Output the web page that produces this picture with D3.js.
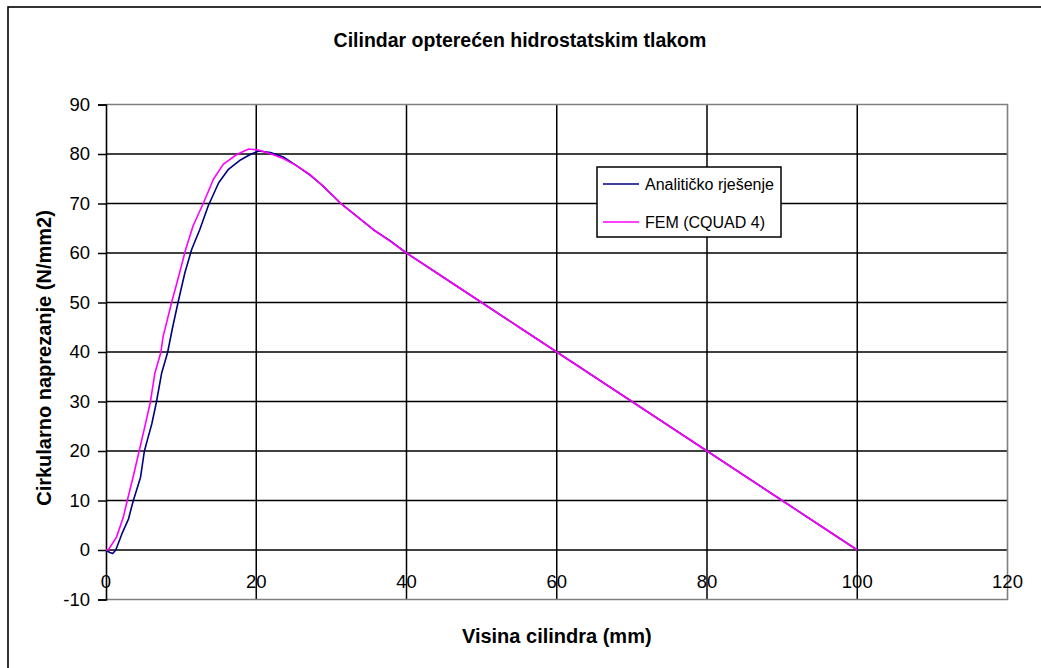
<!DOCTYPE html>
<html><head><meta charset="utf-8">
<script src="https://cdn.jsdelivr.net/npm/d3@7"></script>
<style>
body{margin:0;background:#fff}
svg{display:block}
text{font-family:"Liberation Sans",Arial,sans-serif;fill:#000}
</style>
</head><body>
<svg id="chart" width="1041" height="668"></svg>
<script>
const chartTitle = "Cilindar opterećen hidrostatskim tlakom";
const xTitle = "Visina cilindra (mm)";
const yTitle = "Cirkularno naprezanje (N/mm2)";
const seriesNames = ["Analitičko rješenje", "FEM (CQUAD 4)"];
const seriesColors = ["#000080", "#ff00ff"];
const xTicks = [0, 20, 40, 60, 80, 100, 120];
const yTicks = [-10, 0, 10, 20, 30, 40, 50, 60, 70, 80, 90];

const analyticX = [0, 0.5, 0.9, 1.3, 2.1, 3.0, 3.6, 4.6, 5.1, 5.5, 6.1, 6.7, 7.4, 8.2, 8.8, 9.6, 10.5, 11.4, 12.5, 13.6, 15.0, 16.3, 17.9, 19.2, 20.3, 21.9, 23.6, 25.4, 27.2, 28.9, 31.2, 33.4, 35.6, 37.8, 40, 45, 50, 55, 60, 65, 70, 75, 80, 85, 90, 95, 100];
const analyticY = [0, -0.5, -0.7, 0, 3.2, 6.3, 9.8, 14.7, 19.9, 22.2, 25.5, 29.8, 35.7, 39.9, 44.5, 50.1, 56.0, 60.7, 64.8, 69.5, 74.2, 76.9, 78.8, 79.9, 80.6, 80.3, 79.4, 77.6, 75.7, 73.5, 70.1, 67.4, 64.7, 62.5, 60, 55, 50, 45, 40, 35, 30, 25, 20, 15, 10, 5, 0];

const femX = [0, 0.3, 1.4, 2.3, 2.8, 3.6, 4.4, 5.0, 5.9, 6.5, 7.3, 7.6, 8.75, 9.8, 10.6, 11.6, 13.0, 14.3, 15.6, 17.4, 19.0, 20.3, 21.8, 23.6, 25.4, 27.2, 28.9, 31.2, 33.4, 35.6, 37.8, 40, 45, 50, 55, 60, 65, 70, 75, 80, 85, 90, 95, 100];
const femY = [0, 0, 2.6, 6.6, 9.8, 14.7, 19.9, 23.8, 29.8, 35.7, 39.9, 43.1, 50.1, 56.0, 60.7, 65.5, 70.2, 74.9, 77.9, 79.9, 81.0, 80.8, 80.1, 79.1, 77.6, 75.8, 73.5, 70.1, 67.4, 64.7, 62.4, 60, 55, 50, 45, 40, 35, 30, 25, 20, 15, 10, 5, 0];

const svg = d3.select("#chart");
const L = 106, R = 1007.5, T = 104.5, B = 599.5;
const x = d3.scaleLinear().domain([0, 120]).range([L, R]);
const y = d3.scaleLinear().domain([-10, 90]).range([B, T]);

// outer chart frame (only top/left visible)
svg.append("rect").attr("x", 8).attr("y", 7).attr("width", 1100).attr("height", 700)
  .attr("fill", "none").attr("stroke", "#000").attr("stroke-width", 1.6);

// gridlines
const g = svg.append("g");
g.selectAll(".hg").data(yTicks.filter(d => d > -10 && d < 90)).join("line")
  .attr("x1", L).attr("x2", R).attr("y1", d => y(d)).attr("y2", d => y(d))
  .attr("stroke", "#000").attr("stroke-width", 1.5);
g.selectAll(".vg").data(xTicks.filter(d => d > 0 && d < 120)).join("line")
  .attr("x1", d => x(d)).attr("x2", d => x(d)).attr("y1", T).attr("y2", B)
  .attr("stroke", "#000").attr("stroke-width", 1.5);

// plot border (gray) top, right, bottom
svg.append("path").attr("d", `M${L},${T}H${R}V${B}H${L}`)
  .attr("fill", "none").attr("stroke", "#808080").attr("stroke-width", 1.6);

// y axis
const yAxis = d3.axisLeft(y).tickValues(yTicks).tickSize(8).tickPadding(8).tickFormat(d => String(d));
const ya = svg.append("g").attr("transform", `translate(${L},0)`).call(yAxis);
ya.select(".domain").attr("stroke", "#000").attr("stroke-width", 1.6);
ya.selectAll(".tick line").attr("stroke", "#000").attr("stroke-width", 1.5);
ya.selectAll("text").attr("font-size", 18.5).attr("font-family", '"Liberation Sans",Arial,sans-serif').attr("fill", "#000");

// x tick labels (inside the plot, above bottom line)
const xa = svg.append("g");
xa.selectAll("text").data(xTicks).join("text")
  .attr("x", d => x(d)).attr("y", 588).attr("text-anchor", "middle")
  .attr("font-size", 18.5).text(d => String(d));

// series
const line = d3.line().x(d => x(d[0])).y(d => y(d[1]));
const series = [d3.zip(analyticX, analyticY), d3.zip(femX, femY)];
svg.append("g").selectAll("path").data(series).join("path")
  .attr("d", line).attr("fill", "none")
  .attr("stroke", (d, i) => seriesColors[i]).attr("stroke-width", 1.6)
  .attr("stroke-linejoin", "round");

// titles
svg.append("text").attr("x", 520).attr("y", 47).attr("text-anchor", "middle")
  .attr("font-size", 19.5).attr("font-weight", "bold").text(chartTitle);
svg.append("text").attr("x", (L + R) / 2).attr("y", 643).attr("text-anchor", "middle")
  .attr("font-size", 20).attr("font-weight", "bold").text(xTitle);
svg.append("text").attr("transform", `translate(51,358) rotate(-90)`)
  .attr("text-anchor", "middle").attr("font-size", 20).attr("font-weight", "bold").text(yTitle);

// legend
const lg = svg.append("g").attr("transform", "translate(597,167)");
lg.append("rect").attr("width", 184).attr("height", 70).attr("fill", "#fff")
  .attr("stroke", "#000").attr("stroke-width", 1.5);
seriesNames.forEach((n, i) => {
  const cy = 17 + i * 38;
  lg.append("line").attr("x1", 6).attr("x2", 42).attr("y1", cy).attr("y2", cy)
    .attr("stroke", seriesColors[i]).attr("stroke-width", 1.6);
  lg.append("text").attr("x", 48).attr("y", cy + 6).attr("font-size", 16).text(n);
});
</script>
</body></html>
